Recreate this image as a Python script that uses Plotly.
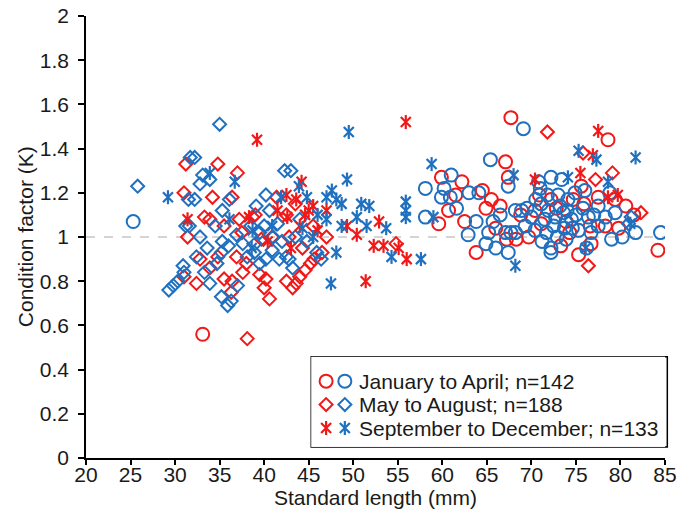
import plotly.graph_objects as go

# ---------------- data ----------------
jan_red_x = [33.1, 59.6, 59.9, 60.7, 62.2, 63.8, 64.9, 65.5, 66.0, 66.5, 67.1, 67.2, 67.4, 67.7, 68.3,
             69.7, 70.4, 71.1, 72.2, 73.9, 74.7, 75.3, 75.6, 76.6, 76.7, 77.5, 78.3, 78.6, 79.4, 80.6,
             84.2, 61.5, 64.5, 70.9, 72.8, 74.3, 75.9, 73.3, 68.8, 79.8, 81.5, 62.5]
jan_red_y = [0.56, 1.06, 1.27, 1.12, 1.25, 0.93, 1.13, 1.17, 1.04, 1.14, 1.34, 0.99, 1.27, 1.54, 0.99,
             1.00, 1.12, 1.06, 1.17, 1.07, 1.17, 0.92, 1.23, 1.05, 0.97, 1.18, 1.05, 1.44, 1.17, 1.14,
             0.94, 1.19, 1.21, 1.19, 1.13, 1.02, 1.15, 0.96, 1.10, 1.04, 1.10, 1.07]

jan_blue_x = [25.3, 58.1, 58.1, 59.9, 60.2, 60.9, 61.0, 61.6, 62.9, 63.8, 64.1, 64.9, 65.2, 65.4, 66.0,
              67.1, 67.4, 67.4, 68.2, 67.7, 68.2, 68.9, 69.1, 69.3, 70.0, 70.4, 70.8, 71.0, 71.1, 71.7,
              71.9, 72.2, 72.2, 72.2, 72.7, 73.0, 73.4, 73.6, 73.9, 74.1, 74.5, 74.9, 75.3, 76.0, 76.2,
              76.4, 76.7, 77.5, 77.5, 78.3, 79.0, 79.4, 81.7, 84.5, 72.5, 73.2, 74.0, 71.5, 72.9, 75.0,
              70.5, 69.5, 71.8, 74.6, 66.5, 75.8, 73.7, 71.2, 77.0, 65.7, 63.0, 78.8, 80.2]
jan_blue_y = [1.07, 1.22, 1.09, 1.18, 1.22, 1.18, 1.28, 1.13, 1.01, 1.07, 1.20, 0.97, 1.02, 1.35, 0.95,
              1.02, 1.23, 0.93, 1.12, 1.02, 1.02, 1.12, 1.49, 1.05, 1.09, 1.03, 1.25, 1.22, 1.15, 1.02,
              1.12, 1.27, 0.95, 0.93, 1.09, 1.19, 1.26, 1.11, 0.99, 1.17, 1.08, 1.20, 1.03, 1.21, 0.95,
              1.09, 1.02, 1.05, 1.14, 1.09, 0.99, 1.11, 1.02, 1.02, 1.05, 1.14, 1.12, 1.08, 1.00, 1.10,
              1.17, 1.13, 1.19, 1.04, 1.10, 1.13, 1.04, 0.98, 1.10, 1.07, 1.20, 1.20, 1.00]

may_red_x = [31.2, 31.0, 31.4, 31.0, 32.4, 32.8, 33.3, 33.9, 33.9, 34.2, 34.8, 34.8, 35.5, 35.5, 36.3,
             36.4, 36.4, 36.9, 37.0, 37.2, 37.6, 38.0, 38.1, 38.7, 39.5, 39.7, 40.0, 40.2, 40.6, 40.9,
             41.4, 42.5, 42.8, 43.6, 43.2, 44.0, 44.6, 45.2, 45.6, 44.3, 45.5, 46.5, 47.0, 54.8, 71.8,
             76.4, 77.2, 79.1, 82.3, 75.8, 39.0, 42.5, 43.5, 37.5]
may_red_y = [1.33, 1.20, 1.00, 0.82, 0.79, 0.90, 1.09, 1.08, 0.86, 1.18, 1.33, 0.91, 1.05, 0.81, 0.75,
             0.80, 1.18, 0.91, 1.29, 1.08, 0.84, 0.88, 0.54, 1.09, 0.83, 0.99, 0.77, 0.81, 0.72, 1.00,
             1.18, 0.80, 1.00, 0.79, 0.77, 0.82, 0.85, 0.88, 0.90, 0.95, 1.05, 0.93, 1.00, 0.97, 1.475,
             0.87, 1.26, 1.29, 1.11, 1.38, 1.10, 1.10, 1.15, 1.02]

may_blue_x = [25.8, 29.3, 29.8, 30.3, 30.9, 31.0, 31.2, 31.5, 31.6, 31.7, 32.2, 32.2, 32.4, 32.8, 32.8,
              33.1, 33.3, 33.6, 33.9, 33.9, 34.7, 35.0, 35.2, 35.2, 35.3, 35.3, 35.9, 36.1, 36.3, 36.9,
              37.6, 38.1, 38.9, 39.1, 39.5, 40.2, 40.2, 40.6, 40.9, 41.7, 42.3, 42.5, 42.8, 43.0, 43.2,
              45.9, 46.4, 37.0, 38.5, 39.5, 40.0, 41.0, 41.5, 42.0, 43.5, 44.0, 44.8, 36.0, 34.5, 39.0,
              80.9, 81.2]
may_blue_y = [1.23, 0.76, 0.78, 0.80, 0.87, 0.84, 1.05, 1.17, 1.05, 1.36, 1.36, 1.17, 0.91, 1.24, 1.00,
              1.28, 0.84, 0.95, 1.26, 0.79, 0.88, 1.51, 0.93, 0.73, 1.12, 0.98, 0.69, 1.17, 0.71, 1.01,
              0.97, 0.91, 0.93, 1.14, 0.88, 1.19, 0.90, 1.12, 0.94, 0.90, 1.30, 0.91, 0.90, 1.30, 0.86,
              0.93, 0.90, 0.78, 1.05, 1.02, 1.05, 1.00, 1.06, 0.98, 1.00, 1.08, 0.98, 0.96, 1.05, 0.97,
              1.06, 1.09]

sep_red_x = [31.4, 38.3, 39.2, 40.4, 42.5, 42.6, 43.6, 44.2, 45.0, 44.6, 45.5, 47.0, 49.3, 50.4, 51.4,
             52.3, 52.9, 53.4, 55.1, 55.9, 56.0, 70.4, 75.5, 76.9, 77.5, 78.6, 79.7, 43.0, 46.0, 44.0,
             41.5]
sep_red_y = [1.08, 1.09, 1.44, 0.98, 1.19, 1.09, 1.17, 1.25, 1.12, 1.10, 1.14, 1.12, 1.05, 1.01, 0.80,
             0.96, 1.07, 0.96, 0.95, 1.52, 0.90, 1.26, 1.29, 1.37, 1.48, 1.18, 1.19, 0.95, 1.03, 1.05,
             1.12]

sep_blue_x = [29.2, 33.9, 36.1, 36.7, 38.6, 38.7, 40.9, 41.9, 43.9, 44.3, 44.8, 47.0, 47.0, 47.5, 47.6,
              48.1, 48.1, 48.7, 48.7, 49.3, 49.5, 50.4, 50.9, 51.5, 51.8, 53.7, 54.3, 55.9, 55.9, 55.9,
              57.6, 58.8, 59.0, 68.0, 68.2, 74.1, 75.3, 76.1, 77.3, 78.6, 81.1, 81.7, 45.5, 46.0]
sep_blue_y = [1.18, 1.29, 1.08, 1.25, 0.95, 1.03, 1.05, 1.18, 1.23, 1.04, 1.18, 1.18, 1.08, 0.79, 1.21,
              1.17, 0.93, 1.15, 1.05, 1.26, 1.475, 1.09, 1.15, 1.05, 1.14, 1.04, 0.91, 1.16, 1.12, 1.09,
              0.90, 1.33, 1.09, 1.28, 0.87, 1.27, 1.39, 0.95, 1.35, 1.25, 1.06, 1.36, 1.00, 1.10]

legend_labels = ["January to April; n=142", "May to August; n=188", "September to December; n=133"]
x_ticks = list(range(20, 90, 5))
y_ticks = [0, 0.2, 0.4, 0.6, 0.8, 1, 1.2, 1.4, 1.6, 1.8, 2]
y_tick_text = ["0", "0.2", "0.4", "0.6", "0.8", "1", "1.2", "1.4", "1.6", "1.8", "2"]
x_title = "Standard length (mm)"
y_title = "Condition factor (K)"

RED = "#f21818"
BLUE = "#1f70bf"
FONT = "Liberation Sans, Arial, sans-serif"
TXT = "#1a1a1a"

fig = go.Figure()


def add_series(x, y, color, kind, xa="x", ya="y"):
    if kind == "circle":
        fig.add_trace(go.Scatter(x=x, y=y, mode="markers", xaxis=xa, yaxis=ya, showlegend=False,
                                 marker=dict(symbol="circle-open", size=13, color=color,
                                             line=dict(width=2, color=color))))
    elif kind == "diamond":
        fig.add_trace(go.Scatter(x=x, y=y, mode="markers", xaxis=xa, yaxis=ya, showlegend=False,
                                 marker=dict(symbol="diamond-open", size=10, color=color,
                                             line=dict(width=2, color=color))))
    else:
        for sym in ("x-thin-open", "line-ns-open"):
            fig.add_trace(go.Scatter(x=x, y=y, mode="markers", xaxis=xa, yaxis=ya, showlegend=False,
                                     marker=dict(symbol=sym, size=10, color=color,
                                                 line=dict(width=2.2, color=color))))


add_series(jan_red_x, jan_red_y, RED, "circle")
add_series(jan_blue_x, jan_blue_y, BLUE, "circle")
add_series(may_red_x, may_red_y, RED, "diamond")
add_series(may_blue_x, may_blue_y, BLUE, "diamond")
add_series(sep_red_x, sep_red_y, RED, "star")
add_series(sep_blue_x, sep_blue_y, BLUE, "star")

# reference line at K = 1
fig.add_shape(type="line", xref="x", yref="y", x0=20, x1=85, y0=1, y1=1,
              line=dict(color="#aaaaaa", width=1, dash="dash"), layer="below")

# ---------------- custom legend (inset axes) ----------------
LX0, LX1, LY0, LY1 = 0.389, 1.0, 0.025, 0.229
fig.add_shape(type="rect", xref="paper", yref="paper", x0=LX0, x1=1.004, y0=LY0, y1=LY1,
              line=dict(color="black", width=1.5), fillcolor="white", layer="below")
rows = [0.73, 0.47, 0.21]
kinds = ["circle", "diamond", "star"]
for r, k in zip(rows, kinds):
    add_series([0.042], [r], RED, k, xa="x2", ya="y2")
    add_series([0.095], [r], BLUE, k, xa="x2", ya="y2")
for r, lab in zip(rows, legend_labels):
    fig.add_annotation(xref="x2", yref="y2", x=0.128, y=r, text=lab, showarrow=False,
                       xanchor="left", yanchor="middle",
                       font=dict(family=FONT, size=21, color=TXT))

# y-axis title placed as rotated annotation
fig.add_annotation(xref="paper", yref="paper", x=-0.105, y=0.5, text=y_title, textangle=-90,
                   showarrow=False, xanchor="center", yanchor="middle",
                   font=dict(family=FONT, size=21, color=TXT))

fig.update_layout(
    width=678, height=528,
    margin=dict(l=86, r=13, t=16, b=70),
    paper_bgcolor="white", plot_bgcolor="white",
    font=dict(family=FONT, size=21, color=TXT),
    xaxis=dict(range=[20, 85], tickvals=x_ticks, showgrid=False, zeroline=False, automargin=False,
               showline=True, linecolor="black", linewidth=1.5,
               ticks="outside", ticklen=5, tickcolor="black", tickwidth=1.5,
               ticklabelstandoff=-8,
               title=dict(text=x_title, font=dict(size=21), standoff=0),
               tickfont=dict(size=21)),
    yaxis=dict(range=[0, 2], tickvals=y_ticks, ticktext=y_tick_text, showgrid=False, zeroline=False,
               automargin=False,
               showline=True, linecolor="black", linewidth=1.5,
               ticks="outside", ticklen=6, tickcolor="black", tickwidth=1.5,
               ticklabelstandoff=5,
               tickfont=dict(size=21)),
    xaxis2=dict(domain=[LX0, LX1], range=[0, 1], visible=False, fixedrange=True, anchor="y2"),
    yaxis2=dict(domain=[LY0, LY1], range=[0, 1], visible=False, fixedrange=True, anchor="x2"),
)

fig.write_html("out.html")
